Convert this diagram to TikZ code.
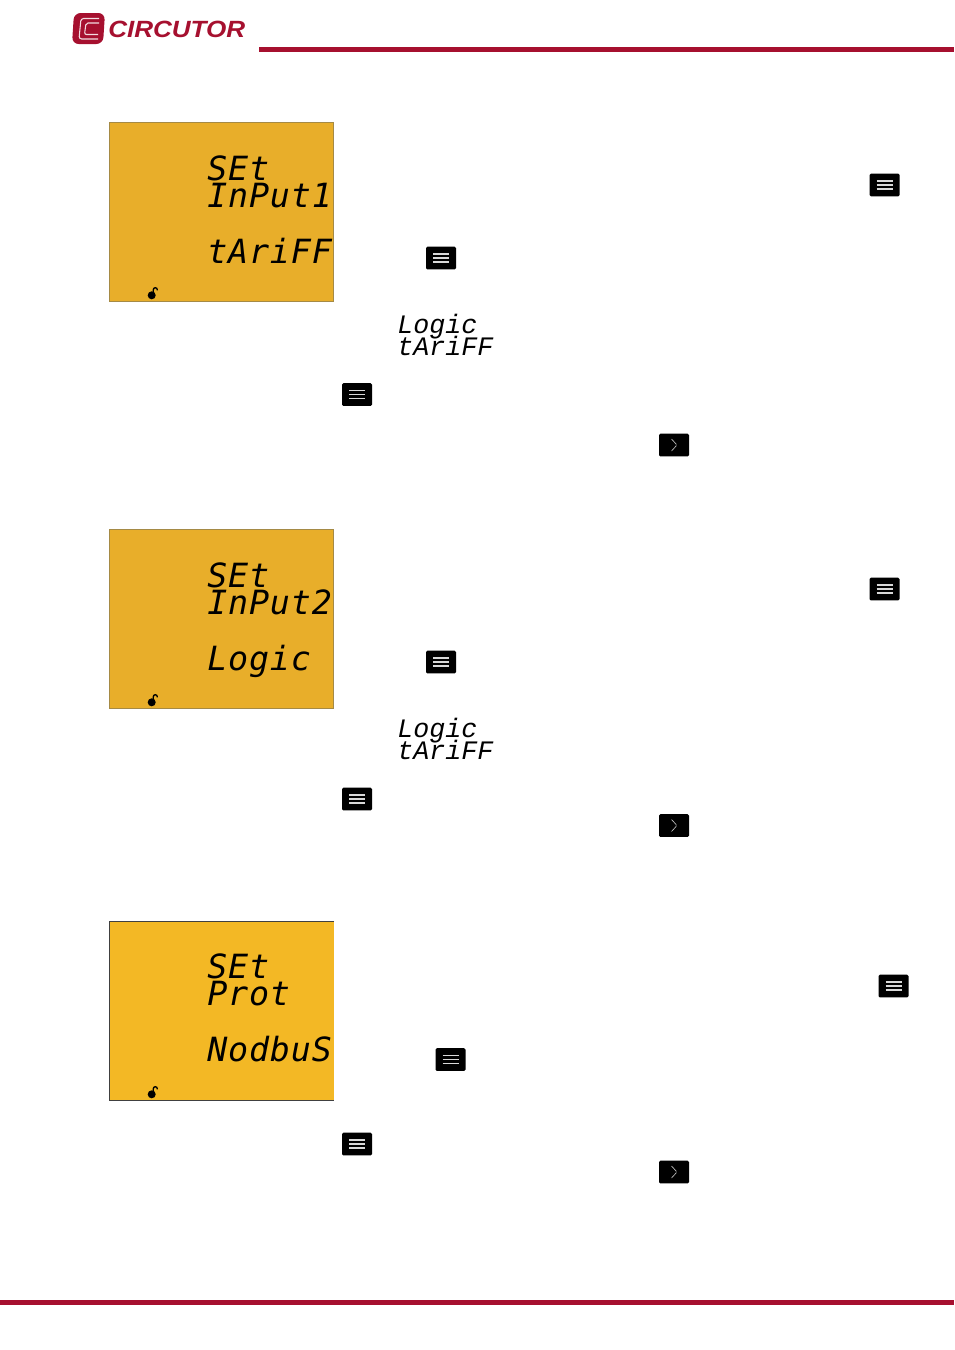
\documentclass[tikz,border=0pt]{standalone}
\usepackage{fontspec}
\newfontfamily\lcdbigfont[LetterSpace=2.5]{DejaVu Sans Mono}
\newfontfamily\lcdsmallfont{Liberation Mono}
\newfontfamily\logofont[FakeStretch=1.11]{Liberation Sans}
\definecolor{circred}{HTML}{A6102F}
\definecolor{lcdamber}{HTML}{E8AE2A}
\definecolor{lcdyellow}{HTML}{F3B825}
\definecolor{lcdedge}{HTML}{A58A45}
\tikzset{
  lcdbig/.style={anchor=base west,inner sep=0pt,text depth=0pt,font=\lcdbigfont\itshape\fontsize{25}{25}\selectfont},
  lcdsmall/.style={anchor=base west,inner sep=0pt,text depth=0pt,font=\lcdsmallfont\itshape\fontsize{20}{20}\selectfont},
  keybox/.style={fill=black,rounded corners=1pt,minimum width=22.5pt,minimum height=17pt,inner sep=0pt},
  menukey/.style={keybox,path picture={
    \draw[white!85!black,line width=0.8pt,shift={(path picture bounding box.center)}]
      (-8,-4) -- (8,-4) (-8,0) -- (8,0) (-8,4) -- (8,4);}},
  nextkey/.style={keybox,path picture={
    \draw[white!75!black,line width=0.5pt,shift={(path picture bounding box.center)}]
      (-2.5,-6) -- (3,0) -- (-2.5,6);}},
  lockicon/.pic={
    \fill[black] (0,0) circle (4);
    \draw[black,line width=1pt] (1.6,-2.5) -- (1.6,-5.6) arc (180:360:2) -- (5.6,-5);}
}
\begin{document}
\begin{tikzpicture}[x=0.75pt,y=-0.75pt]
\useasboundingbox (0,0) rectangle (954,1350);

% header and footer
\fill[circred] (259,47) rectangle (954,51.5);
\fill[circred] (0,1300) rectangle (954,1305);
\fill[circred,rounded corners=5pt] (74,13) -- (105,13) -- (103,44) -- (72,44) -- cycle;
\draw[white!85!circred,line width=0.8pt,rounded corners=2pt] (99,18.5) -- (81,18.5) -- (79,39) -- (98,39);
\draw[white!85!circred,line width=0.8pt,rounded corners=1.5pt] (99,23) -- (86,23) -- (84.5,34.5) -- (98,34.5);
\node [anchor=base west,inner sep=0pt,text=circred,font=\logofont\bfseries\itshape\fontsize{17.6}{17.6}\selectfont] (logoname) at (108,37.5) {CIRCUTOR};

% first input
\draw[lcdedge,fill=lcdamber] (109.5,122.5) rectangle (333.5,301.5);
\node [lcdbig] (setone) at (207,180) {SEt};
\node [lcdbig] (inputone) at (207,207) {InPut1};
\node [lcdbig] (tariffone) at (207,263.5) {tAriFF};
\pic at (151.7,295.3) {lockicon};
\node [menukey] (keya) at (884.5,185) {};
\node [menukey] (keyb) at (441,258) {};
\node [lcdsmall] (logicone) at (397,333) {Logic};
\node [lcdsmall] (tarone) at (397,355) {tAriFF};
\node [menukey] (keyc) at (357,394.5) {};
\node [nextkey] (keyd) at (674,445) {};

% second input
\draw[lcdedge,fill=lcdamber] (109.5,529.5) rectangle (333.5,708.5);
\node [lcdbig] (settwo) at (207,587) {SEt};
\node [lcdbig] (inputtwo) at (207,614) {InPut2};
\node [lcdbig] (logictwo) at (207,670.5) {Logic};
\pic at (151.7,702.3) {lockicon};
\node [menukey] (keye) at (884.5,589) {};
\node [menukey] (keyf) at (441,662) {};
\node [lcdsmall] (logicsm) at (397,737) {Logic};
\node [lcdsmall] (tarsm) at (397,759) {tAriFF};
\node [menukey] (keyg) at (357,799) {};
\node [nextkey] (keyh) at (674,825.5) {};

% protocol
\fill[lcdyellow] (109.5,921.5) rectangle (334,1100.5);
\draw[black!75] (334,921.5) -- (109.5,921.5) -- (109.5,1100.5) -- (334,1100.5);
\node [lcdbig] (setprot) at (207,978) {SEt};
\node [lcdbig] (prot) at (207,1005) {Prot};
\node [lcdbig] (modbus) at (207,1061.5) {NodbuS};
\pic at (151.7,1094.3) {lockicon};
\node [menukey] (keyi) at (893.5,986) {};
\node [menukey] (keyj) at (450.5,1059.5) {};
\node [menukey] (keyk) at (357,1144) {};
\node [nextkey] (keyl) at (674,1172) {};

\end{tikzpicture}
\end{document}
